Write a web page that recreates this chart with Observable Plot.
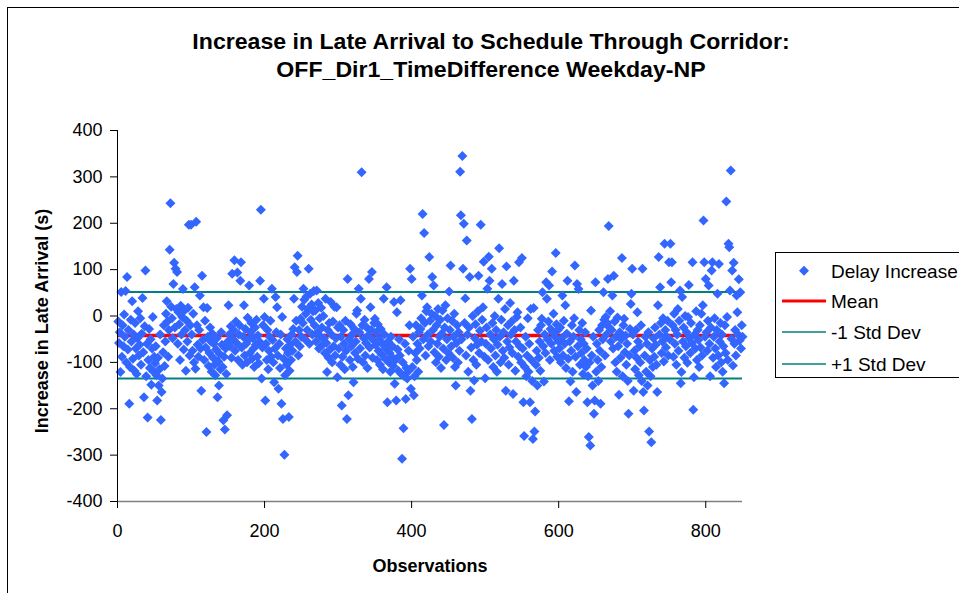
<!DOCTYPE html>
<html>
<head>
<meta charset="utf-8">
<script src="https://cdn.jsdelivr.net/npm/d3@7"></script>
<script src="https://cdn.jsdelivr.net/npm/@observablehq/plot@0.6"></script>
<style>
  html, body { margin: 0; padding: 0; background: #fff; }
  #wrap { position: relative; width: 959px; height: 593px; overflow: hidden;
          font-family: "Liberation Sans", Arial, sans-serif; color: #000; }
  #wrap svg.plot { position: absolute; left: 0; top: 0; }
  #border { position: absolute; left: 7px; top: 7px; width: 1100px; height: 1100px;
            border: 1px solid #000; box-sizing: border-box; pointer-events: none; }
  #title { position: absolute; left: 0; top: 28px; width: 982px; text-align: center;
           font-weight: bold; font-size: 22px; line-height: 28px;
           transform: scaleX(1.05); transform-origin: 491px 0; }
  #ylabel { position: absolute; left: 42px; top: 321px; font-weight: bold; font-size: 18px;
            white-space: nowrap; transform: translate(-50%, -50%) rotate(-90deg); }
  #xlabel { position: absolute; left: 430px; top: 566px; font-weight: bold; font-size: 18px;
            white-space: nowrap; transform: translate(-50%, -50%); }
  #legend { position: absolute; left: 775px; top: 252px; }
</style>
</head>
<body>
<div id="wrap">
  <div id="border"></div>
</div>
<script>
// ---- Data ----
const titleLines = ["Increase in Late Arrival to Schedule Through Corridor:", "OFF_Dir1_TimeDifference Weekday-NP"];
const xAxisTitle = "Observations";
const yAxisTitle = "Increase in Late Arrival (s)";
const xTicks = [0, 200, 400, 600, 800];
const yTicks = [-400, -300, -200, -100, 0, 100, 200, 300, 400];
const xDomain = [0, 850];
const yDomain = [-400, 400];
const seriesNames = ["Delay Increase", "Mean", "-1 Std Dev", "+1 Std Dev"];
const meanValue = -42;
const minusStdDev = -135;
const plusStdDev = 52;

// Delay increase per observation (observation 1..850), estimated from the scatter
const delayIncrease = [
  -12,-58,-35,-121,52,-88,-20,-65,3,-45, 54,-100,84,-72,-30,-189,-110,-8,-55,32, -92,-40,-118,-15,-70,-125,-48,10,-85,-62, -5,-105,-38,39,-78,-175,-22,98,-130,-60, -219,-95,-28,-112,-50,-148,-70,-2,-120,-88,
  -102,-65,-128,-182,-90,-150,-115,-40,-224,-164, -135,-78,-20,-108,-55,5,32,-12,-88,-30, 143,243,20,-5,-48,69,115,-25,102,15, 95,-60,8,-18,-95,22,-40,-2,58,-72, 12,-30,-118,-10,-55,18,197,-85,-20,197,
  -40,-75,5,-100,62,-114,203,-20,-62,-88, -30,44,-70,-161,87,-52,19,-95,-10,-68, -250,17,-45,-108,-80,-25,-55,-120,-38,-90, -60,-105,-128,-72,-48,-175,-98,-150,-82,-115, -35,-62,-110,-225,-88,-245,-70,-125,-214,-55,
  23,-40,-65,-22,-90,91,-50,-30,120,-75, -12,-58,94,-95,-40,-20,76,116,-68,-105, -45,23,-85,-28,-60,-100,-4,-52,66,-80, -35,-15,-92,-48,-70,-110,-25,-62,-8,-88, -42,-102,-55,76,229,-135,-68,-20,37,-2,
  -182,-60,-95,-30,-115,-75,-45,-10,-88,59, -52,-100,-143,-70,41,-35,19,-85,-157,-60, -112,-40,-189,-2,-222,-92,-299,-128,-70,-105, -50,-80,-218,-118,-62,-95,-40,-75,-28,37, 105,-55,-10,95,130,-85,-30,-65,-6,-45,
  20,-15,59,35,-50,5,42,-30,15,102, -60,48,-8,25,-40,10,54,-20,12,-55, 55,-35,28,-70,-5,-45,18,-25,-62,0, -48,-80,37,-58,-121,-30,-90,-15,-72,30, -40,-100,-12,-65,20,-85,-48,19,-132,-25,
  -70,-20,-105,-45,-193,-88,-30,-60,-115,-10, -75,-222,80,-171,-50,-95,-18,-65,-40,-110, -143,-28,-80,-55,5,12,-92,59,-35,-70, 37,310,-20,-100,-48,-8,-85,-58,-25,-112, -42,80,-68,19,-30,95,-90,-52,-15,-6,
  -62,-35,-95,-18,-75,-50,-105,-28,-82,-60, -115,37,-40,-92,-70,62,-186,-55,-100,-80, -120,-45,-88,-65,-108,30,-146,-95,-182,8, -72,-118,-50,-85,34,-125,-308,-100,-242,-130, -60,-179,-112,-135,-120,-75,-20,102,-157,80,
  -110,-45,-171,-130,-80,-20,-95,-60,-120,-35, -70,-28,-5,44,220,-50,179,-15,-85,10, 19,-40,-65,127,-10,-55,5,84,-30,66, -78,0,-100,-20,-60,15,-88,-45,-8,-112, -38,12,-70,-235,-25,23,-95,-50,-5,-80,
  53,-30,109,-65,-10,-90,-45,5,-110,-150, -58,-20,-100,-35,-75,311,217,-50,345,102, 199,-15,38,-85,163,-40,-120,-25,84,-161, -68,-222,0,-95,-139,-48,-18,-105,-62,10, 87,-80,-32,197,-55,-8,19,117,-88,-134,
  -60,-25,59,-95,128,76,-40,-70,102,-15, -110,-50,0,-85,-30,-120,-62,37,146,-45, -100,-8,69,-75,-35,-90,15,-161,107,-55, -20,-105,-68,28,-40,-12,-80,-168,76,-30, -118,-55,-2,8,-88,116,-65,-25,-100,125,
  -70,-186,-259,-110,-45,-130,-85,-5,-120,-60, -186,15,-95,-140,-265,17,-249,-206,-105,-75, -150,-30,-90,-55,-118,-20,-6,51,-65,-141, -40,-80,73,37,-50,-12,66,-95,-28,-60, 96,-35,5,-75,-45,136,-18,-88,-30,-55,
  -70,-25,-100,-48,44,-85,-10,-60,23,-112, -38,76,-92,-184,-55,-141,-75,-20,-120,-45, -5,109,-88,-164,69,-65,58,-30,-105,-50, -80,-15,-125,-60,-95,-35,-110,-70,-186,-130, -261,-100,-279,12,-85,-150,-45,-211,-182,73,
  -120,-60,-95,-140,-30,-75,-189,-110,-20,-50, 51,-8,-85,-2,-40,-15,80,194,-25,10, -55,-30,44,-70,87,-12,-100,-45,-120,-3, -65,-170,-35,-90,-50,125,-130,-20,-6,-78, -42,-105,-60,-140,-211,-85,-28,26,48,102,
  -40,-161,-75,-115,-30,-90,8,-55,-128,-65, -100,-20,-140,102,-164,-204,-85,-45,-120,-60, -150,-35,-249,-95,-130,-272,-70,-110,-48,-88, -25,-62,-105,-164,23,127,-40,62,-15,-80, -55,-5,-98,156,-30,-68,-45,-10,-85,116,
  -50,156,73,116,-20,-88,5,-60,-30,-105, -40,15,-75,-10,55,-145,-121,41,-55,-25, -90,0,-65,-35,-101,-2,67,-48,-80,-15, -58,116,-202,-132,-40,-70,10,-95,-30,-52, -110,-20,-68,5,-85,23,206,116,-45,80,
  -35,-75,-10,66,-60,-130,-25,98,116,-90, -45,-5,-70,-110,-30,48,-85,112,-55,-15, -100,-40,-120,-65,-145,-20,-80,247,-2,-95, 156,148,55,314,-49,98,-107,115,-60,-30, -85,44,8,-40,79,-53,51,-70,-20,-45
];

// ---- Build table for the library ----
const points = delayIncrease.map((v, i) => ({obs: i + 1, value: v}));

const FONT = "'Liberation Sans', Arial, sans-serif";
const fmt = d => String(d);

const chart = Plot.plot({
  width: 959,
  height: 593,
  marginLeft: 117,
  marginRight: 217,
  marginTop: 130,
  marginBottom: 92,
  x: {domain: xDomain, label: null},
  y: {domain: yDomain, label: null},
  style: {fontFamily: FONT, fontSize: "18px", color: "#000", background: "transparent", overflow: "visible"},
  marks: [
    Plot.ruleY([meanValue], {x1: xDomain[0], x2: xDomain[1], stroke: "#FF0000", strokeWidth: 3.5}),
    Plot.ruleY([minusStdDev], {x1: xDomain[0], x2: xDomain[1], stroke: "#008080", strokeWidth: 2}),
    Plot.ruleY([plusStdDev], {x1: xDomain[0], x2: xDomain[1], stroke: "#008080", strokeWidth: 2}),
    Plot.dot(points, {x: "obs", y: "value", symbol: "diamond2", r: 4.5, fill: "#3366FF", stroke: null}),
    Plot.ruleY([yDomain[0]], {stroke: "#808080", strokeWidth: 1.5}),
    Plot.ruleX([xDomain[0]], {y1: yDomain[0], y2: yDomain[1], stroke: "#000", strokeWidth: 1}),
    Plot.axisY({ticks: yTicks, tickSize: 7, tickPadding: 8, tickFormat: fmt, label: null, stroke: "#000"}),
    Plot.axisX({ticks: xTicks, tickSize: 7, tickPadding: 16, tickFormat: fmt, label: null, stroke: "#000"})
  ]
});
chart.classList.add("plot");

const wrap = document.getElementById("wrap");
wrap.insertBefore(chart, wrap.firstChild);

// Title
const title = document.createElement("div");
title.id = "title";
title.innerHTML = titleLines.map(t => `<div>${t}</div>`).join("");
wrap.appendChild(title);

// Axis titles
const yl = document.createElement("div");
yl.id = "ylabel"; yl.textContent = yAxisTitle; wrap.appendChild(yl);
const xl = document.createElement("div");
xl.id = "xlabel"; xl.textContent = xAxisTitle; wrap.appendChild(xl);

// Legend
const rows = [18.7, 49, 80, 112];
const legendSvg = `
<svg width="200" height="127" xmlns="http://www.w3.org/2000/svg" style="font-family:${FONT};font-size:19px">
  <rect x="0.5" y="0.5" width="210" height="125" fill="#fff" stroke="#000" stroke-width="1"/>
  <path d="M29,${rows[0]-5} L34,${rows[0]} L29,${rows[0]+5} L24,${rows[0]} Z" fill="#3366FF"/>
  <line x1="7" x2="51" y1="${rows[1]}" y2="${rows[1]}" stroke="#FF0000" stroke-width="3"/>
  <line x1="7" x2="51" y1="${rows[2]}" y2="${rows[2]}" stroke="#008080" stroke-width="1.5"/>
  <line x1="7" x2="51" y1="${rows[3]}" y2="${rows[3]}" stroke="#008080" stroke-width="1.5"/>
  ${seriesNames.map((n, i) => `<text x="56" y="${rows[i]}" dy="0.36em">${n}</text>`).join("")}
</svg>`;
const legend = document.createElement("div");
legend.id = "legend";
legend.innerHTML = legendSvg;
wrap.appendChild(legend);
</script>
</body>
</html>
